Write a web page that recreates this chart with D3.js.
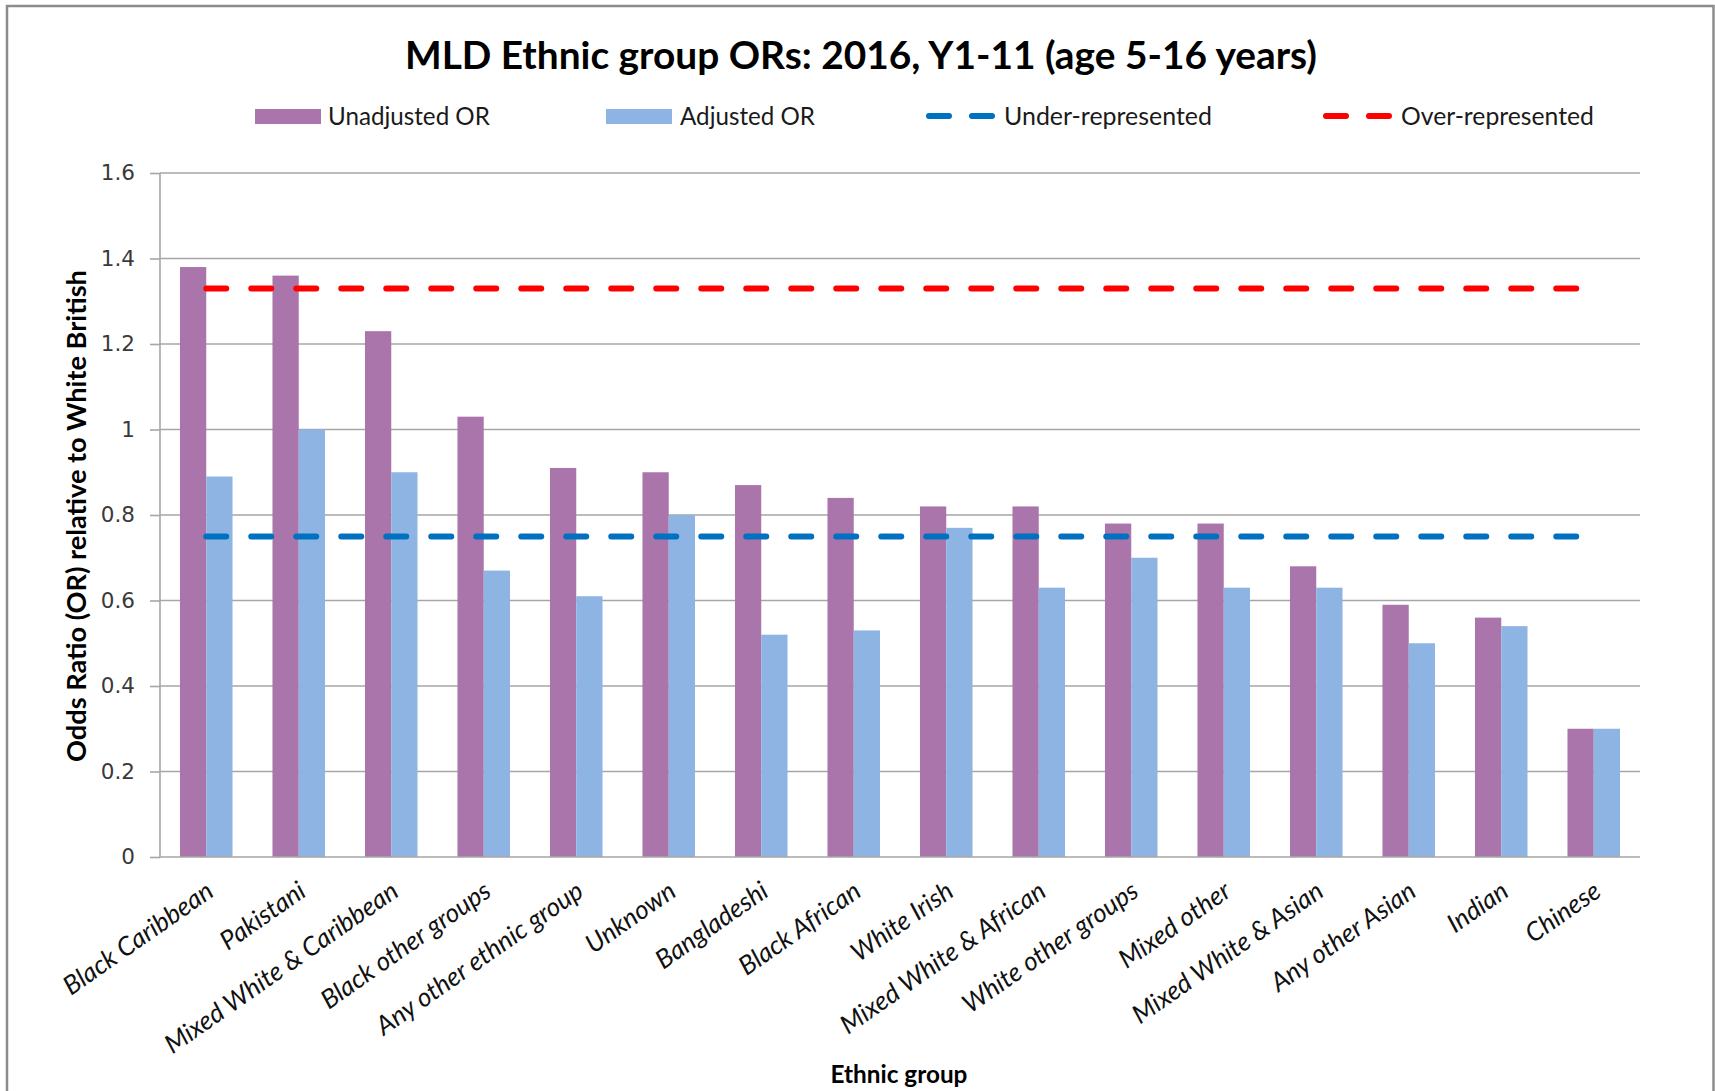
<!DOCTYPE html>
<html>
<head>
<meta charset="utf-8">
<script src="https://cdn.jsdelivr.net/npm/d3@7"></script>
<style>
  body { margin: 0; background: #fff; }
  svg { display: block; }
</style>
</head>
<body>
<svg id="chart" width="1715" height="1091"></svg>
<script>
// Ethnic groups, ordered by unadjusted odds ratio
const categories = [
  "Black Caribbean", "Pakistani", "Mixed White & Caribbean", "Black other groups",
  "Any other ethnic group", "Unknown", "Bangladeshi", "Black African", "White Irish",
  "Mixed White & African", "White other groups", "Mixed other", "Mixed White & Asian",
  "Any other Asian", "Indian", "Chinese"
];
const unadjustedOR = [1.38, 1.36, 1.23, 1.03, 0.91, 0.90, 0.87, 0.84, 0.82, 0.82, 0.78, 0.78, 0.68, 0.59, 0.56, 0.30];
const adjustedOR   = [0.89, 1.00, 0.90, 0.67, 0.61, 0.80, 0.52, 0.53, 0.77, 0.63, 0.70, 0.63, 0.63, 0.50, 0.54, 0.30];

// Reference thresholds
const underRepresented = 0.75;
const overRepresented = 1.33;

const yTickValues = [0, 0.2, 0.4, 0.6, 0.8, 1, 1.2, 1.4, 1.6];
const yTickLabels = ["0", "0.2", "0.4", "0.6", "0.8", "1", "1.2", "1.4", "1.6"];

const seriesNames = ["Unadjusted OR", "Adjusted OR", "Under-represented", "Over-represented"];
const titleText = "MLD Ethnic group ORs: 2016, Y1-11 (age 5-16 years)";
const yTitleText = "Odds Ratio (OR) relative to White British";
const xTitleText = "Ethnic group";

const colors = {
  unadjusted: "#AA75AA",
  adjusted: "#8EB4E3",
  under: "#0070C0",
  over: "#FF0000",
  grid: "#A6A6A6",
  frame: "#8C8C8C"
};

const font = "Lato, 'Open Sans', sans-serif";
const svg = d3.select("#chart");

// Scale a text's font size so its rendered length equals a target width
function fitWidth(sel, target) {
  const fs = parseFloat(sel.attr("font-size"));
  const len = sel.node().getComputedTextLength();
  sel.attr("font-size", (fs * target / len).toFixed(2));
  return sel;
}

// Outer frame
svg.append("rect")
  .attr("x", 7).attr("y", 6)
  .attr("width", 1706.5).attr("height", 1100)
  .attr("fill", "#fff")
  .attr("stroke", colors.frame)
  .attr("stroke-width", 2.5);

// Plot geometry
const plot = { left: 160, right: 1640, top: 173, bottom: 857 };

const x0 = d3.scaleBand()
  .domain(categories)
  .range([plot.left, plot.right])
  .paddingInner(0.432)
  .paddingOuter(0.216);

const x1 = d3.scaleBand()
  .domain(["unadjusted", "adjusted"])
  .range([0, x0.bandwidth()]);

const y = d3.scaleLinear().domain([0, 1.6]).range([plot.bottom, plot.top]);

// Horizontal gridlines
svg.append("g")
  .selectAll("line")
  .data(yTickValues.filter(v => v > 0))
  .join("line")
  .attr("x1", plot.left).attr("x2", plot.right)
  .attr("y1", d => y(d)).attr("y2", d => y(d))
  .attr("stroke", colors.grid)
  .attr("stroke-width", 1.6);

// Y axis
const yAxis = svg.append("g")
  .attr("transform", `translate(${plot.left},0)`)
  .call(d3.axisLeft(y)
    .tickValues(yTickValues)
    .tickFormat((d, i) => yTickLabels[i])
    .tickSize(10)
    .tickPadding(15));
yAxis.select(".domain").attr("stroke", colors.grid).attr("stroke-width", 1.6)
  .attr("d", `M0,${plot.top}V${plot.bottom}`);
yAxis.selectAll(".tick line").attr("stroke", colors.grid).attr("stroke-width", 1.6);
yAxis.selectAll(".tick text")
  .attr("font-family", "'DejaVu Sans', Verdana, sans-serif")
  .attr("font-size", 21.5)
  .attr("fill", "#3a3a3a");

// Bars
const groups = svg.append("g")
  .selectAll("g")
  .data(categories.map((c, i) => ({ c, unadjusted: unadjustedOR[i], adjusted: adjustedOR[i] })))
  .join("g")
  .attr("transform", d => `translate(${x0(d.c)},0)`);

groups.selectAll("rect")
  .data(d => ["unadjusted", "adjusted"].map(k => ({ k, v: d[k] })))
  .join("rect")
  .attr("x", d => x1(d.k))
  .attr("width", x1.bandwidth())
  .attr("y", d => y(d.v))
  .attr("height", d => y(0) - y(d.v))
  .attr("fill", d => colors[d.k]);

// X axis line
svg.append("line")
  .attr("x1", plot.left).attr("x2", plot.right)
  .attr("y1", y(0)).attr("y2", y(0))
  .attr("stroke", colors.grid)
  .attr("stroke-width", 1.6);

// Threshold lines across category centres
const centre = c => x0(c) + x0.bandwidth() / 2;
const thresholdLine = d3.line().x(d => centre(d[0])).y(d => y(d[1]));
const dash = "20 25";

[[underRepresented, colors.under], [overRepresented, colors.over]].forEach(([v, col]) => {
  svg.append("path")
    .datum(categories.map(c => [c, v]))
    .attr("d", thresholdLine)
    .attr("fill", "none")
    .attr("stroke", col)
    .attr("stroke-width", 6)
    .attr("stroke-linecap", "round")
    .attr("stroke-dasharray", dash);
});

// Category labels, rotated
const labelAngle = -35;
const xLabels = svg.append("g")
  .selectAll("text")
  .data(categories)
  .join("text")
  .attr("transform", d => `translate(${centre(d) + 9},${plot.bottom + 38}) rotate(${labelAngle})`)
  .attr("text-anchor", "end")
  .attr("font-family", font)
  .attr("font-style", "italic")
  .attr("font-size", 24)
  .attr("fill", "#111")
  .text(d => d);
{
  const first = d3.select(xLabels.nodes()[0]);
  fitWidth(first, 176);
  xLabels.attr("font-size", first.attr("font-size"));
}

// Title
fitWidth(svg.append("text")
  .attr("x", 861).attr("y", 69)
  .attr("text-anchor", "middle")
  .attr("font-family", font)
  .attr("font-weight", "bold")
  .attr("font-size", 36)
  .attr("fill", "#000")
  .text(titleText), 912);

// Axis titles
fitWidth(svg.append("text")
  .attr("transform", "translate(86,516) rotate(-90)")
  .attr("text-anchor", "middle")
  .attr("font-family", font)
  .attr("font-weight", "bold")
  .attr("font-size", 24)
  .attr("fill", "#000")
  .text(yTitleText), 492);

fitWidth(svg.append("text")
  .attr("x", 899).attr("y", 1083)
  .attr("text-anchor", "middle")
  .attr("font-family", font)
  .attr("font-weight", "bold")
  .attr("font-size", 24)
  .attr("fill", "#000")
  .text(xTitleText), 137);

// Legend
const legendItems = [
  { name: seriesNames[0], type: "rect", color: colors.unadjusted, sx: 255, tx: 328, tw: 162 },
  { name: seriesNames[1], type: "rect", color: colors.adjusted,   sx: 606, tx: 680, tw: 135 },
  { name: seriesNames[2], type: "line", color: colors.under,      sx: 929, tx: 1004, tw: 208 },
  { name: seriesNames[3], type: "line", color: colors.over,       sx: 1326, tx: 1401, tw: 193 }
];
const legend = svg.append("g");
legendItems.forEach(it => {
  if (it.type === "rect") {
    legend.append("rect")
      .attr("x", it.sx).attr("y", 109)
      .attr("width", 66).attr("height", 15)
      .attr("fill", it.color);
  } else {
    legend.append("line")
      .attr("x1", it.sx).attr("x2", it.sx + 63)
      .attr("y1", 116).attr("y2", 116)
      .attr("stroke", it.color)
      .attr("stroke-width", 6)
      .attr("stroke-linecap", "round")
      .attr("stroke-dasharray", "20 23");
  }
  fitWidth(legend.append("text")
    .attr("x", it.tx).attr("y", 124.5)
    .attr("font-family", font)
    .attr("font-size", 24)
    .attr("fill", "#1a1a1a")
    .text(it.name), it.tw);
});
</script>
</body>
</html>
